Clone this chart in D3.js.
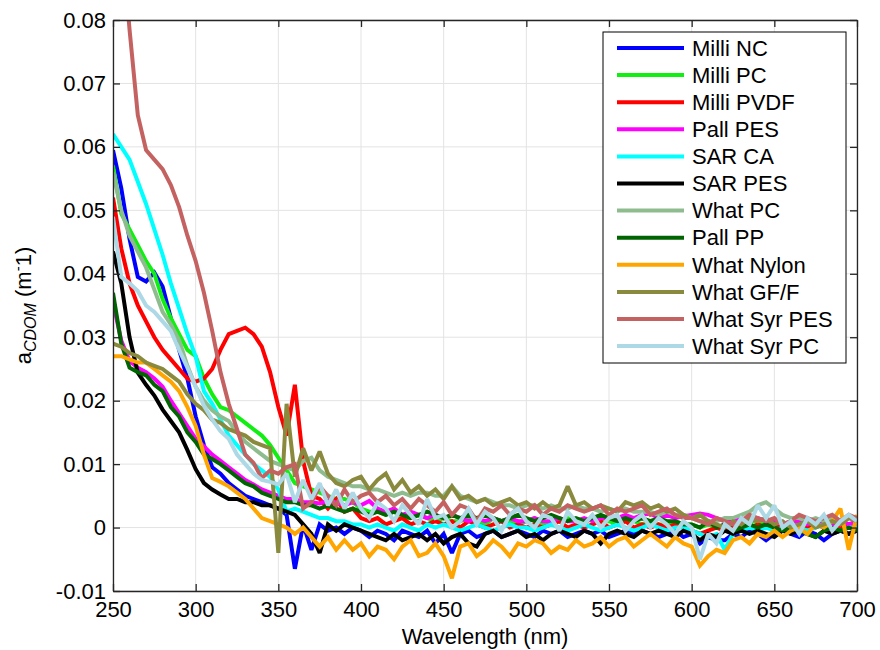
<!DOCTYPE html>
<html>
<head>
<meta charset="utf-8">
<script src="https://cdn.jsdelivr.net/npm/d3@7"></script>
<style>
  html, body { margin: 0; padding: 0; background: #fff; }
  svg { display: block; font-family: "Liberation Sans", Arial, Helvetica, sans-serif; }
</style>
</head>
<body>
<svg id="chart" width="880" height="650"></svg>
<script>
// ---------- DATA ----------
const wavelengths = d3.range(250, 701, 5); // 250..700 nm, 5 nm step
const seriesNames = ["Milli NC","Milli PC","Milli PVDF","Pall PES","SAR CA","SAR PES",
  "What PC","Pall PP","What Nylon","What GF/F","What Syr PES","What Syr PC"];
const seriesColors = ["#0000ff","#11ee11","#ff0000","#ff00ff","#00ffff","#000000",
  "#8fbc8f","#006400","#ffa500","#8a8a3e","#c46262","#add8e6"];

const milliNC = [.0595,.0535,.0455,.0395,.0388,.0402,.0380,.0330,.0280,.0235,
.0175,.0130,.0095,.0085,.0070,.0060,.0050,.0045,.0040,.0035,
.0030,.0020,-.0065,.0005,-.0035,.0005,-.0005,.0000,-.0010,.0000,
-.0005,-.0015,-.0005,-.0010,-.0020,-.0005,-.0010,-.0015,-.0005,-.0025,
-.0010,-.0040,-.0010,-.0005,-.0015,-.0010,-.0005,-.0015,-.0010,-.0005,
-.0010,-.0015,-.0005,-.0010,-.0005,-.0015,-.0010,-.0005,-.0010,-.0005,
-.0015,-.0010,-.0005,-.0010,-.0005,-.0010,-.0015,-.0010,-.0005,-.0015,
-.0010,-.0025,-.0015,-.0020,-.0020,-.0010,-.0015,-.0005,-.0010,-.0020,
-.0010,-.0005,-.0010,-.0015,-.0005,-.0010,-.0020,-.0010,-.0005,-.0010,
-.0005];
const milliPC = [.0570,.0495,.0470,.0445,.0420,.0400,.0360,.0330,.0305,.0280,
.0270,.0235,.0210,.0190,.0185,.0175,.0165,.0155,.0145,.0130,
.0110,.0090,.0070,.0065,.0060,.0055,.0050,.0045,.0045,.0040,
.0030,.0025,.0025,.0020,.0025,.0015,.0015,.0020,.0015,.0010,
.0015,.0010,.0010,.0015,.0010,.0005,.0015,.0010,.0010,.0005,
.0010,.0015,.0005,.0010,.0010,.0015,.0010,.0005,.0018,.0010,
.0010,.0005,.0010,.0010,.0005,.0010,.0005,.0005,.0010,.0005,
.0005,.0000,.0005,.0000,.0000,.0005,.0005,.0010,.0010,.0005,
.0010,.0000,.0005,.0005,.0000,.0005,.0005,.0000,.0010,.0005,
.0005];
const milliPVDF = [.0520,.0440,.0385,.0350,.0325,.0300,.0280,.0265,.0250,.0235,
.0230,.0235,.0250,.0280,.0305,.0310,.0315,.0305,.0285,.0245,
.0190,.0145,.0225,.0105,.0050,.0045,.0030,.0045,.0025,.0030,
.0015,.0010,.0015,.0005,.0010,.0015,.0005,.0010,.0005,.0010,
.0005,.0010,.0000,.0010,.0005,.0000,.0005,.0010,.0000,.0005,
.0000,.0005,.0000,.0005,.0010,.0000,.0005,.0000,.0005,.0010,
.0000,.0005,.0010,.0000,.0005,.0000,.0005,.0000,.0005,.0000,
-.0005,-.0010,-.0005,.0000,-.0005,.0000,.0005,.0000,.0005,.0000,
.0005,.0000,.0005,-.0005,.0000,.0005,.0000,.0005,.0000,.0005,
.0000];
const pallPES = [.0355,.0295,.0262,.0252,.0245,.0235,.0222,.0200,.0180,.0160,
.0140,.0128,.0115,.0105,.0095,.0085,.0075,.0068,.0060,.0055,
.0050,.0045,.0045,.0040,.0040,.0038,.0042,.0040,.0035,.0040,
.0035,.0042,.0030,.0025,.0030,.0020,.0025,.0020,.0015,.0020,
.0015,.0020,.0015,.0010,.0015,.0010,.0015,.0010,.0015,.0010,
.0010,.0015,.0010,.0010,.0015,.0010,.0010,.0015,.0010,.0015,
.0015,.0015,.0020,.0015,.0020,.0022,.0015,.0020,.0015,.0018,
.0020,.0022,.0020,.0015,.0010,.0010,.0015,.0010,.0015,.0010,
.0010,.0005,.0010,.0010,.0005,.0010,.0010,.0005,.0010,.0005,
.0010];
const sarCA = [.0620,.0600,.0580,.0545,.0510,.0470,.0430,.0385,.0345,.0305,
.0270,.0215,.0195,.0170,.0145,.0130,.0115,.0100,.0090,.0080,
.0060,.0025,.0030,.0025,.0020,.0015,.0015,.0010,.0010,.0005,
.0005,.0000,.0005,.0000,-.0005,.0005,.0000,-.0005,.0005,.0000,
.0005,.0000,-.0005,.0000,.0005,.0000,-.0005,.0000,.0005,.0000,
.0000,-.0005,.0000,.0005,.0000,-.0005,.0000,.0005,.0000,-.0005,
.0000,.0005,.0000,-.0005,.0000,.0005,.0000,-.0005,.0000,.0000,
-.0005,-.0010,-.0015,-.0010,-.0035,-.0010,-.0005,.0000,-.0005,.0000,
-.0005,.0000,.0005,.0000,-.0005,.0000,.0005,.0000,-.0005,.0000,
.0000];
const sarPES = [.0435,.0385,.0300,.0244,.0225,.0208,.0186,.0168,.0150,.0122,
.0092,.0070,.0060,.0052,.0045,.0045,.0040,.0040,.0035,.0035,
.0030,.0025,.0020,.0005,-.0010,-.0040,.0005,-.0005,.0005,.0000,
-.0005,-.0010,-.0015,-.0020,-.0010,-.0020,-.0015,-.0010,-.0020,-.0010,
-.0025,-.0015,-.0010,-.0025,-.0030,-.0010,-.0005,-.0015,-.0010,-.0005,
-.0015,-.0010,-.0020,-.0010,-.0005,-.0010,-.0015,-.0005,-.0010,-.0025,
-.0010,-.0005,-.0010,-.0015,-.0005,-.0010,-.0005,-.0010,-.0015,-.0005,
-.0010,-.0020,-.0010,-.0015,-.0005,-.0010,-.0005,-.0010,-.0005,-.0010,
-.0015,-.0005,-.0010,-.0005,-.0010,-.0015,-.0005,-.0010,-.0005,-.0010,
-.0005];
const whatPC = [.0560,.0500,.0460,.0435,.0410,.0375,.0340,.0320,.0295,.0255,
.0222,.0200,.0185,.0175,.0168,.0150,.0135,.0125,.0115,.0105,
.0100,.0095,.0090,.0105,.0110,.0090,.0080,.0075,.0070,.0065,
.0065,.0060,.0060,.0055,.0050,.0055,.0050,.0055,.0055,.0050,
.0050,.0065,.0050,.0045,.0040,.0045,.0040,.0035,.0035,.0030,
.0035,.0035,.0030,.0035,.0030,.0030,.0035,.0030,.0030,.0025,
.0030,.0025,.0030,.0025,.0025,.0025,.0020,.0025,.0020,.0020,
.0015,.0010,.0010,.0010,.0015,.0015,.0020,.0025,.0035,.0040,
.0030,.0020,.0015,.0015,.0010,.0015,.0010,.0015,.0010,.0015,
.0015];
const pallPP = [.0370,.0290,.0252,.0245,.0240,.0225,.0215,.0190,.0175,.0150,
.0135,.0115,.0108,.0100,.0090,.0080,.0070,.0065,.0055,.0050,
.0045,.0040,.0040,.0035,.0035,.0030,.0035,.0030,.0025,.0030,
.0025,.0020,.0025,.0020,.0025,.0020,.0015,.0020,.0025,.0020,
.0015,.0020,.0015,.0020,.0015,.0020,.0015,.0010,.0015,.0020,
.0015,.0010,.0015,.0020,.0015,.0010,.0015,.0010,.0015,.0020,
.0015,.0010,.0015,.0010,.0015,.0010,.0015,.0010,.0010,.0005,
.0005,.0000,.0010,.0000,.0005,-.0005,.0000,.0005,.0000,.0005,
.0000,-.0005,.0000,-.0005,-.0010,-.0015,-.0005,.0000,-.0005,.0000,
-.0005];
const whatNylon = [.0270,.0270,.0265,.0260,.0260,.0250,.0240,.0230,.0215,.0190,
.0160,.0115,.0078,.0072,.0065,.0055,.0045,.0030,.0015,.0010,
.0005,.0000,-.0010,.0000,-.0015,-.0030,-.0015,-.0035,-.0020,-.0035,
-.0025,-.0045,-.0030,-.0035,-.0050,-.0030,-.0020,-.0045,-.0040,-.0025,
-.0045,-.0080,-.0030,-.0025,-.0045,-.0035,-.0020,-.0030,-.0045,-.0025,
-.0030,-.0020,-.0025,-.0040,-.0030,-.0035,-.0020,-.0030,-.0025,-.0015,
-.0030,-.0020,-.0015,-.0030,-.0020,-.0010,-.0020,-.0030,-.0015,-.0025,
-.0030,-.0060,-.0045,-.0035,-.0040,-.0020,-.0015,-.0025,-.0010,-.0015,
-.0005,-.0015,-.0005,.0000,-.0010,.0005,.0000,.0010,.0030,-.0035,
.0020];
const whatGFF = [.0290,.0285,.0275,.0270,.0260,.0255,.0250,.0240,.0230,.0210,
.0195,.0185,.0170,.0165,.0155,.0150,.0145,.0135,.0130,.0125,
-.0040,.0195,.0080,.0125,.0090,.0120,.0085,.0070,.0065,.0075,
.0080,.0060,.0075,.0085,.0060,.0075,.0055,.0065,.0050,.0060,
.0045,.0065,.0045,.0050,.0040,.0045,.0035,.0040,.0045,.0035,
.0040,.0030,.0040,.0030,.0035,.0065,.0035,.0040,.0030,.0035,
.0030,.0025,.0040,.0035,.0040,.0030,.0035,.0025,.0030,.0020,
.0015,.0020,.0010,.0005,.0000,.0010,.0005,.0015,.0010,.0015,
.0005,.0010,.0000,.0005,.0010,.0000,.0005,.0010,.0005,.0015,
.0010];
const whatSyrPES = [.1120,.0940,.0785,.0650,.0595,.0580,.0565,.0540,.0505,.0460,
.0420,.0370,.0310,.0245,.0195,.0155,.0115,.0102,.0078,.0090,
.0085,.0095,.0100,.0030,.0040,.0065,.0050,.0035,.0060,.0040,
.0050,.0055,.0040,.0050,.0035,.0045,.0030,.0045,.0035,.0025,
.0040,.0020,.0035,.0030,.0010,.0030,.0025,.0035,.0020,.0030,
.0025,.0035,.0020,.0030,.0025,.0035,.0030,.0025,.0030,.0035,
.0020,.0030,.0025,.0030,.0035,.0020,.0025,.0030,.0020,.0015,
.0015,.0010,.0005,.0015,.0010,.0005,.0010,.0020,.0015,.0010,
.0015,.0005,.0010,.0020,.0015,.0010,.0015,.0020,.0010,.0020,
.0015];
const whatSyrPC = [.0490,.0395,.0385,.0373,.0350,.0340,.0325,.0310,.0280,.0252,
.0222,.0192,.0170,.0152,.0140,.0115,.0100,.0085,.0075,.0072,
.0068,.0085,.0040,.0075,.0045,.0070,.0035,.0060,.0030,.0055,
.0030,.0015,.0040,.0030,.0010,.0035,.0020,.0005,.0045,.0015,
.0020,.0000,.0010,.0030,.0005,.0025,.0015,-.0005,.0020,.0030,
.0010,.0000,.0020,.0015,-.0005,.0025,.0010,.0005,.0020,.0000,
.0015,.0020,-.0005,.0010,.0020,.0000,.0015,.0005,-.0010,.0010,
.0000,-.0050,-.0010,-.0025,.0005,-.0005,.0015,.0005,.0035,.0015,
.0035,.0000,.0010,-.0010,.0015,.0005,.0020,-.0005,.0010,.0020,
.0010];

const seriesValues = [milliNC, milliPC, milliPVDF, pallPES, sarCA, sarPES,
  whatPC, pallPP, whatNylon, whatGFF, whatSyrPES, whatSyrPC];

const xTickValues = [250,300,350,400,450,500,550,600,650,700];
const xTickLabels = ["250","300","350","400","450","500","550","600","650","700"];
const yTickValues = [-0.01,0,0.01,0.02,0.03,0.04,0.05,0.06,0.07,0.08];
const yTickLabels = ["-0.01","0","0.01","0.02","0.03","0.04","0.05","0.06","0.07","0.08"];

// ---------- LAYOUT ----------
const svg = d3.select("#chart");
const L = 113, R = 857, T = 20, B = 591;
const x = d3.scaleLinear().domain([250, 700]).range([L, R]);
const y = d3.scaleLinear().domain([-0.01, 0.08]).range([B, T]);
const axisColor = "#262626";
const fontSize = 22;

// grid
const grid = svg.append("g");
grid.selectAll("line.gx").data(xTickValues).join("line")
  .attr("x1", d => x(d)).attr("x2", d => x(d)).attr("y1", T).attr("y2", B)
  .attr("stroke", "#e3e3e3").attr("stroke-width", 1);
grid.selectAll("line.gy").data(yTickValues).join("line")
  .attr("x1", L).attr("x2", R).attr("y1", d => y(d)).attr("y2", d => y(d))
  .attr("stroke", "#e3e3e3").attr("stroke-width", 1);

// series
svg.append("defs").append("clipPath").attr("id", "plotclip")
  .append("rect").attr("x", L).attr("y", T).attr("width", R - L).attr("height", B - T);
const line = d3.line().x((d, i) => x(wavelengths[i])).y(d => y(d));
const plot = svg.append("g").attr("clip-path", "url(#plotclip)");
seriesValues.forEach((vals, k) => {
  plot.append("path").datum(vals)
    .attr("d", line)
    .attr("fill", "none")
    .attr("stroke", seriesColors[k])
    .attr("stroke-width", 4)
    .attr("stroke-linejoin", "miter")
    .attr("stroke-miterlimit", 2);
});

// axes
function styleAxis(g) {
  g.select(".domain").attr("stroke", axisColor).attr("stroke-width", 1.3);
  g.selectAll(".tick line").attr("stroke", axisColor).attr("stroke-width", 1.3);
  g.selectAll(".tick text").attr("fill", "#000").style("font-size", fontSize + "px")
    .style("font-family", '"Liberation Sans", Arial, sans-serif');
}
const xAxis = d3.axisBottom(x).tickValues(xTickValues)
  .tickFormat((d, i) => xTickLabels[i]).tickSizeInner(-7).tickSizeOuter(0).tickPadding(10);
svg.append("g").attr("transform", `translate(0,${B})`).call(xAxis).call(styleAxis);
const xAxisTop = d3.axisTop(x).tickValues(xTickValues).tickFormat("").tickSizeInner(-7).tickSizeOuter(0);
svg.append("g").attr("transform", `translate(0,${T})`).call(xAxisTop).call(styleAxis);
const yAxis = d3.axisLeft(y).tickValues(yTickValues)
  .tickFormat((d, i) => yTickLabels[i]).tickSizeInner(-7).tickSizeOuter(0).tickPadding(7);
svg.append("g").attr("transform", `translate(${L},0)`).call(yAxis).call(styleAxis);
const yAxisRight = d3.axisRight(y).tickValues(yTickValues).tickFormat("").tickSizeInner(-7).tickSizeOuter(0);
svg.append("g").attr("transform", `translate(${R},0)`).call(yAxisRight).call(styleAxis);

// axis titles
svg.append("text").attr("x", (L + R) / 2).attr("y", 644)
  .attr("text-anchor", "middle").style("font-size", fontSize + "px").attr("fill", "#000")
  .text("Wavelength (nm)");
const yt = svg.append("text")
  .attr("transform", `translate(31,${(T + B) / 2}) rotate(-90)`)
  .attr("text-anchor", "middle").style("font-size", fontSize + "px").attr("fill", "#000");
yt.append("tspan").text("a");
yt.append("tspan").attr("dy", 5).style("font-size", "16px").style("font-style", "italic").text("CDOM");
yt.append("tspan").attr("dy", -5).text(" (m");
yt.append("tspan").attr("dy", -8).style("font-size", "15px").text("-");
yt.append("tspan").attr("dy", 8).text("1)");

// legend
const lg = svg.append("g");
lg.append("rect").attr("x", 603).attr("y", 32).attr("width", 243).attr("height", 331)
  .attr("fill", "#fff").attr("stroke", "#000").attr("stroke-width", 1);
seriesNames.forEach((name, k) => {
  const cy = 48 + k * 27.1;
  lg.append("line").attr("x1", 617).attr("x2", 684).attr("y1", cy).attr("y2", cy)
    .attr("stroke", seriesColors[k]).attr("stroke-width", 4);
  lg.append("text").attr("x", 692).attr("y", cy).attr("dy", "0.35em")
    .style("font-size", fontSize + "px").attr("fill", "#000").text(name);
});
</script>
</body>
</html>
